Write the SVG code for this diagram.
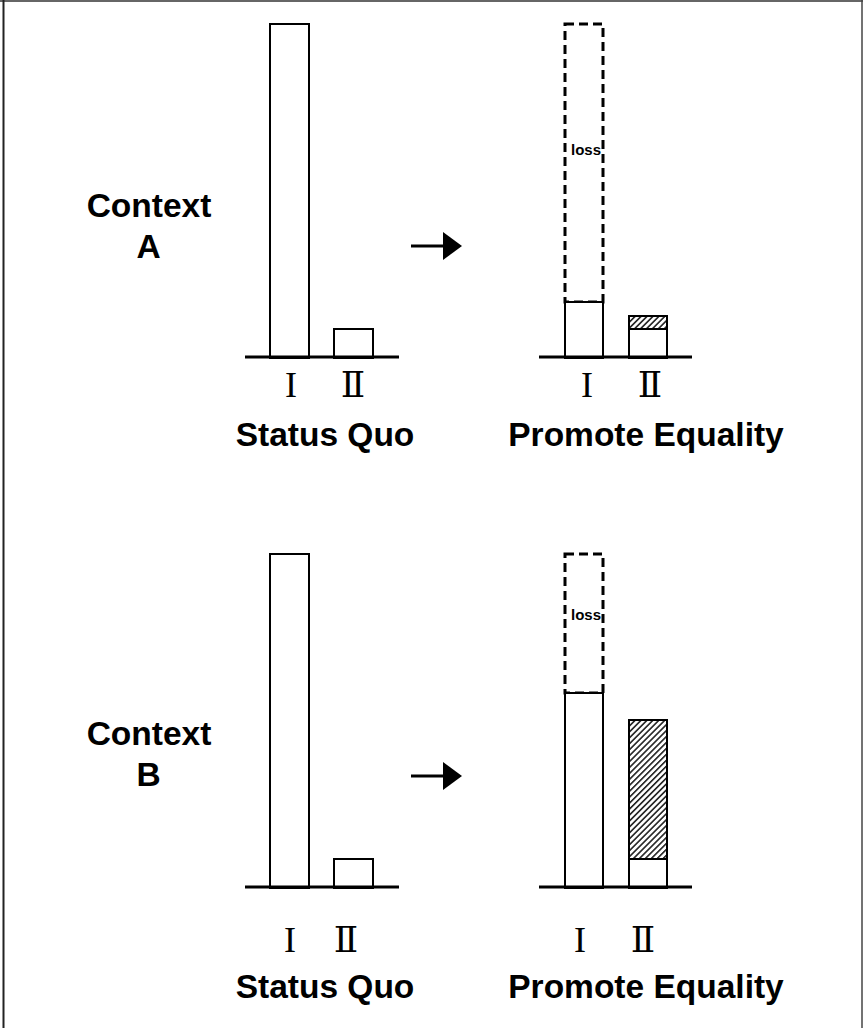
<svg xmlns="http://www.w3.org/2000/svg" width="863" height="1028" viewBox="0 0 863 1028">
<style>
.bar{fill:#fff;stroke:#000;stroke-width:2}
.hat{fill:url(#hatch);stroke:#000;stroke-width:2}
.loss{fill:none;stroke:#000;stroke-width:3;stroke-dasharray:9 5}
.base{stroke:#000;stroke-width:3}
.rom{font-family:"Liberation Serif","DejaVu Serif",serif;font-size:36px;text-anchor:middle;fill:#000}
.lab{font-family:"Liberation Sans",Arial,sans-serif;font-weight:bold;font-size:33.5px;text-anchor:middle;fill:#000}
.ls{font-family:"Liberation Sans",Arial,sans-serif;font-weight:bold;font-size:15px;text-anchor:middle;fill:#000}
.arr{stroke:#000;stroke-width:3}
</style>
<defs>
<pattern id="hatch" patternUnits="userSpaceOnUse" width="4.2" height="4.2" patternTransform="rotate(45)">
<rect width="4.2" height="4.2" fill="#fff"/>
<rect x="0" y="0" width="1.6" height="4.2" fill="#222"/>
</pattern>
</defs>
<g id="frame">
<line x1="0" y1="1" x2="863" y2="1" stroke="#666" stroke-width="2"/>
<line x1="3.5" y1="0" x2="3.5" y2="1028" stroke="#222" stroke-width="2"/>
<line x1="862" y1="0" x2="862" y2="1028" stroke="#444" stroke-width="1.5"/>
</g>
<g id="contextA">
<text class="lab" x="149" y="217">Context</text>
<text class="lab" x="148.5" y="258">A</text>
</g>
<g id="contextB">
<text class="lab" x="149" y="745">Context</text>
<text class="lab" x="148.5" y="786">B</text>
</g>
<g id="sqA">
<rect class="bar" x="270" y="24" width="39" height="334"/>
<rect class="bar" x="334" y="329" width="39" height="29"/>
<line class="base" x1="245" y1="357" x2="399" y2="357"/>
<text class="rom" x="291" y="397">I</text>
<text class="rom" x="353" y="397">Ⅱ</text>
<text class="lab" x="325" y="446">Status Quo</text>
</g>
<g id="peA">
<rect class="loss" x="565" y="24" width="38" height="278"/>
<text class="ls" x="586" y="155">loss</text>
<rect class="bar" x="565" y="302" width="38" height="56"/>
<rect class="hat" x="629" y="316" width="38" height="13"/>
<rect class="bar" x="629" y="329" width="38" height="29"/>
<line class="base" x1="539" y1="357" x2="692" y2="357"/>
<text class="rom" x="587" y="397">I</text>
<text class="rom" x="650" y="397">Ⅱ</text>
<text class="lab" x="646" y="446">Promote Equality</text>
</g>
<g id="sqB">
<rect class="bar" x="270" y="554" width="39" height="334"/>
<rect class="bar" x="334" y="859" width="39" height="29"/>
<line class="base" x1="245" y1="887" x2="399" y2="887"/>
<text class="rom" x="290" y="952">I</text>
<text class="rom" x="346" y="952">Ⅱ</text>
<text class="lab" x="325" y="998">Status Quo</text>
</g>
<g id="peB">
<rect class="loss" x="565" y="554" width="38" height="139"/>
<text class="ls" x="586" y="620">loss</text>
<rect class="bar" x="565" y="693" width="38" height="195"/>
<rect class="hat" x="629" y="720" width="38" height="139"/>
<rect class="bar" x="629" y="859" width="38" height="29"/>
<line class="base" x1="539" y1="887" x2="692" y2="887"/>
<text class="rom" x="580" y="952">I</text>
<text class="rom" x="643" y="952">Ⅱ</text>
<text class="lab" x="646" y="998">Promote Equality</text>
</g>
<g id="connectors">
<line class="arr" x1="411" y1="246" x2="444" y2="246"/>
<polygon points="443,232 462,246 443,260" fill="#000"/>
<line class="arr" x1="411" y1="776" x2="444" y2="776"/>
<polygon points="443,762 462,776 443,790" fill="#000"/>
</g>
</svg>
